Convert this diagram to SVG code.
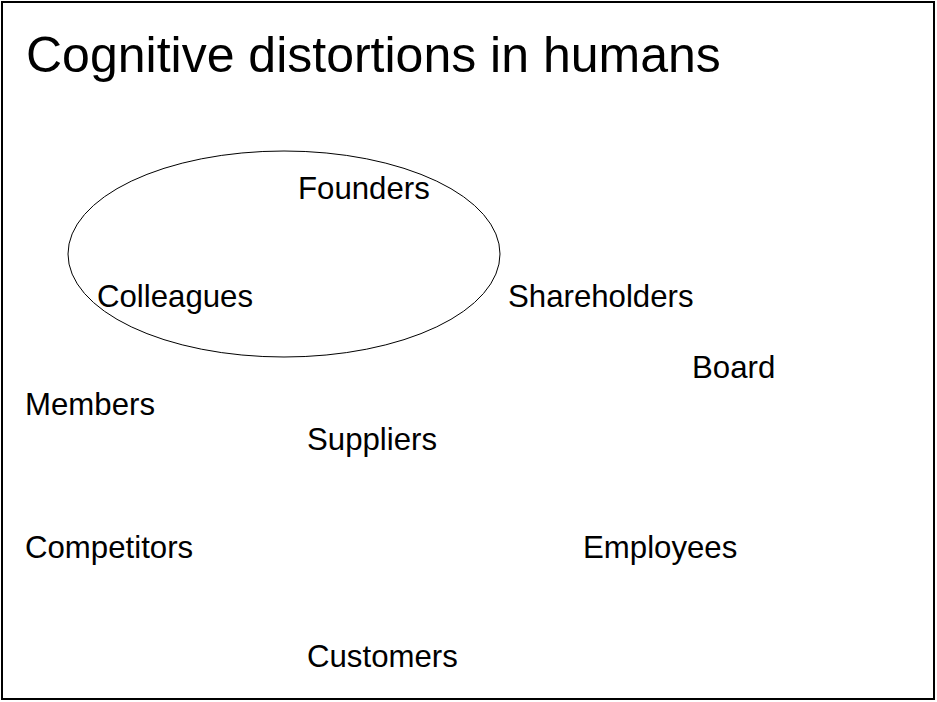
<svg xmlns="http://www.w3.org/2000/svg" width="937" height="702" viewBox="0 0 937 702">
<style>
text{font-family:"Liberation Sans",Arial,sans-serif;fill:#000}
.t{font-size:50px}
.n{font-size:31.2px}
</style>
<rect x="0" y="0" width="937" height="702" fill="#fff"/>
<rect x="2" y="2" width="932" height="697" fill="none" stroke="#000" stroke-width="2"/>
<text class="t" x="26" y="72">Cognitive distortions in humans</text>
<g id="group-ellipse"><ellipse cx="284" cy="254" rx="216" ry="103" fill="none" stroke="#000" stroke-width="1"/></g>
<g id="founders"><text class="n" x="298" y="199">Founders</text></g>
<g id="colleagues"><text class="n" x="97" y="307">Colleagues</text></g>
<g id="shareholders"><text class="n" x="508" y="307">Shareholders</text></g>
<g id="board"><text class="n" x="692" y="378">Board</text></g>
<g id="members"><text class="n" x="25" y="415">Members</text></g>
<g id="suppliers"><text class="n" x="307" y="450">Suppliers</text></g>
<g id="competitors"><text class="n" x="25" y="558">Competitors</text></g>
<g id="employees"><text class="n" x="583" y="558">Employees</text></g>
<g id="customers"><text class="n" x="307" y="667">Customers</text></g>
<g id="connectors"></g>
</svg>
